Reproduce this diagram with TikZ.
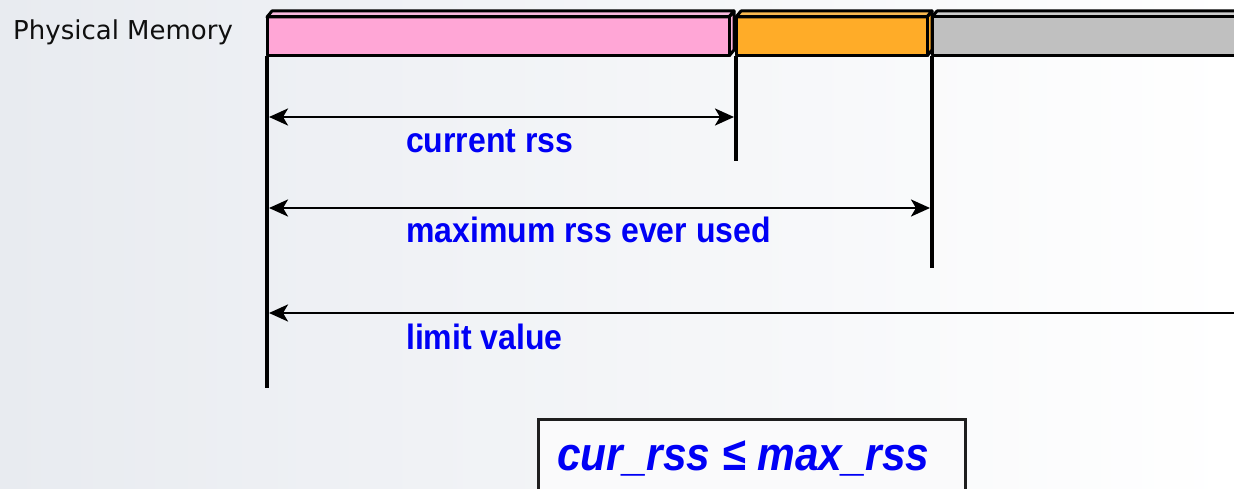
\documentclass[tikz,border=0pt]{standalone}
\usepackage{fontspec}
\usetikzlibrary{arrows.meta}
\newfontfamily\lblfont{Liberation Sans}
\newfontfamily\pmfont{DejaVu Sans}
\definecolor{bgleft}{RGB}{232,235,240}
\definecolor{pinkfill}{RGB}{255,166,214}
\definecolor{pinktop}{RGB}{250,185,222}
\definecolor{orangefill}{RGB}{255,172,40}
\definecolor{orangetop}{RGB}{250,185,80}
\definecolor{grayfill}{RGB}{192,192,192}
\definecolor{graytop}{RGB}{205,205,205}
\definecolor{lblblue}{RGB}{0,0,245}
\tikzset{
  barface/.style={draw=black, line width=3pt, line join=round},
  guide/.style={draw=black, line width=4pt},
  dimline/.style={draw=black, line width=2.8pt, -{Stealth[length=19pt,width=17pt,inset=5pt]}},
  dimboth/.style={draw=black, line width=2.8pt, {Stealth[length=19pt,width=17pt,inset=5pt]}-{Stealth[length=19pt,width=17pt,inset=5pt]}},
  dimlabel/.style={anchor=base west, inner sep=0pt, text=lblblue, font=\lblfont\bfseries\fontsize{32}{36}\selectfont},
  formulabox/.style={draw={rgb,255:red,30;green,30;blue,30}, line width=3pt},
}
\begin{document}
\begin{tikzpicture}[x=1pt,y=-1pt]
\useasboundingbox (0,0) rectangle (1234,489);
\shade[left color=bgleft, right color=white] (0,0) rectangle (1234,489);
\clip (0,0) rectangle (1234,489);

% label
\node[anchor=base west, inner sep=0pt, font=\pmfont\fontsize{26}{30}\selectfont, text={rgb,255:red,15;green,15;blue,15}] (pm) at (13,40) {Physical Memory};

% pink bar
\fill[pinktop] (267,17) -- (272,11) -- (734,11) -- (729,17) -- cycle;
\fill[pinkfill!85!white] (729,17) -- (734,11) -- (734,50) -- (729,56) -- cycle;
\fill[pinkfill] (267,17) rectangle (729,56);
\draw[barface] (267,17) -- (272,11) -- (734,11) -- (729,17) -- cycle;
\draw[barface] (729,17) -- (734,11) -- (734,50) -- (729,56);
\draw[barface] (267,17) rectangle (729,56);

% orange bar
\fill[orangetop] (736,17) -- (741,11) -- (932,11) -- (927,17) -- cycle;
\fill[orangefill] (927,17) -- (932,11) -- (932,50) -- (927,56) -- cycle;
\fill[orangefill] (736,17) rectangle (927,56);
\draw[barface] (736,17) -- (741,11) -- (932,11) -- (927,17) -- cycle;
\draw[barface] (927,17) -- (932,11) -- (932,50) -- (927,56);
\draw[barface] (736,17) rectangle (927,56);

% gray bar
\fill[graytop] (932,17) -- (937,11) -- (1245,11) -- (1245,17) -- cycle;
\fill[grayfill] (932,17) rectangle (1245,56);
\draw[barface] (932,17) -- (937,11) -- (1245,11);
\draw[barface] (932,17) -- (1245,17);
\draw[barface] (1245,56) -- (932,56) -- (932,17);

% guide coordinates
\coordinate (g0t) at (267,56);
\coordinate (g0b) at (267,388);
\coordinate (g1t) at (736,56);
\coordinate (g1b) at (736,161);
\coordinate (g2t) at (932,56);
\coordinate (g2b) at (932,268);
\draw[guide] (g0t) -- (g0b);
\draw[guide] (g1t) -- (g1b);
\draw[guide] (g2t) -- (g2b);

% dimension arrows
\coordinate (a1l) at (267,117);
\coordinate (a1r) at (736,117);
\coordinate (a2l) at (267,208);
\coordinate (a2r) at (932,208);
\coordinate (a3l) at (267,313);
\coordinate (a3r) at (1245,313);
\draw[dimboth, shorten <=2pt, shorten >=2pt] (a1l) -- (a1r);
\draw[dimboth, shorten <=2pt, shorten >=2pt] (a2l) -- (a2r);
\draw[dimline, shorten >=2pt] (a3r) -- (a3l);

\node[dimlabel] (l1) at (406,153) {\scalebox{1}[1.1]{current rss}};
\node[dimlabel] (l2) at (406,243) {\scalebox{1}[1.1]{maximum rss ever used}};
\node[dimlabel] (l3) at (406,349) {\scalebox{1}[1.1]{limit value}};

% formula box
\draw[formulabox, fill={rgb,255:red,250;green,250;blue,251}] (538,419) rectangle (965,500);
\node[anchor=base west, inner sep=0pt, text=lblblue, font=\lblfont\bfseries\itshape\fontsize{42}{48}\selectfont] (f) at (557,470) {\scalebox{1.01}[1.12]{cur\_rss ≤ max\_rss}};
\end{tikzpicture}
\end{document}
